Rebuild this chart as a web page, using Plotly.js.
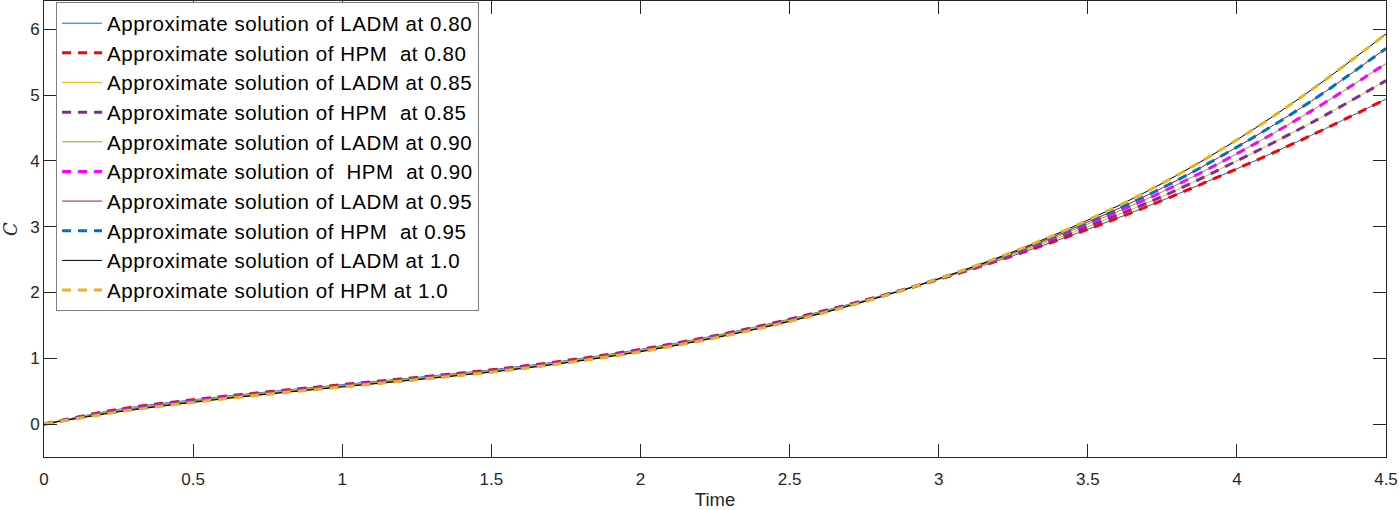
<!DOCTYPE html>
<html>
<head>
<meta charset="utf-8">
<script src="https://cdn.plot.ly/plotly-3.0.1.min.js"></script>
<style>
html,body{margin:0;padding:0;background:#fff;}
#chart{width:1399px;height:510px;}
.legendtext{letter-spacing:0.55px;}
</style>
</head>
<body>
<div id="chart"></div>
<script>
var time = [0, 0.25, 0.5, 0.75, 1.0, 1.25, 1.5, 1.75, 2.0, 2.25, 2.5, 2.75, 3.0, 3.25, 3.5, 3.75, 4.0, 4.25, 4.5];
var c080 = [0, 0.225, 0.37, 0.49, 0.60, 0.71, 0.825, 0.965, 1.135, 1.345, 1.595, 1.88, 2.20, 2.56, 2.96, 3.40, 3.88, 4.39, 4.94];
var c085 = [0, 0.215, 0.36, 0.48, 0.59, 0.70, 0.815, 0.955, 1.125, 1.335, 1.585, 1.875, 2.20, 2.575, 3.00, 3.46, 4.00, 4.58, 5.22];
var c090 = [0, 0.205, 0.35, 0.47, 0.58, 0.69, 0.805, 0.945, 1.115, 1.325, 1.575, 1.87, 2.205, 2.59, 3.04, 3.53, 4.11, 4.76, 5.48];
var c095 = [0, 0.195, 0.34, 0.46, 0.57, 0.68, 0.795, 0.935, 1.105, 1.315, 1.565, 1.865, 2.21, 2.605, 3.07, 3.59, 4.21, 4.91, 5.71];
var c100 = [0, 0.185, 0.33, 0.455, 0.565, 0.675, 0.79, 0.93, 1.10, 1.31, 1.56, 1.86, 2.21, 2.62, 3.10, 3.66, 4.32, 5.08, 5.93];

var seriesNames = [
  'Approximate solution of LADM at 0.80',
  'Approximate solution of HPM  at 0.80',
  'Approximate solution of LADM at 0.85',
  'Approximate solution of HPM  at 0.85',
  'Approximate solution of LADM at 0.90',
  'Approximate solution of  HPM  at 0.90',
  'Approximate solution of LADM at 0.95',
  'Approximate solution of HPM  at 0.95',
  'Approximate solution of LADM at 1.0',
  'Approximate solution of HPM at 1.0'
];
var seriesValues = [c080, c080, c085, c085, c090, c090, c095, c095, c100, c100];
var seriesColors = ['#0072BD', '#FF0000', '#EDB120', '#7E2F8E', '#77AC30', '#FF00FF', '#A2142F', '#0072BD', '#000000', '#EDB120'];

var traces = seriesNames.map(function (name, i) {
  var dashed = (i % 2 === 1);
  return {
    x: time,
    y: seriesValues[i],
    type: 'scatter',
    mode: 'lines',
    name: name.replace(/  /g, ' \u00a0'),
    line: {
      color: seriesColors[i],
      width: dashed ? 3 : 1,
      dash: dashed ? '9px,7px' : 'solid',
      shape: 'spline',
      smoothing: 1
    }
  };
});

var axisCommon = {
  showline: true,
  linecolor: '#262626',
  linewidth: 1,
  mirror: 'ticks',
  ticks: 'inside',
  ticklen: 13,
  tickwidth: 1,
  tickcolor: '#262626',
  showgrid: false,
  zeroline: false,
  tickfont: {family: 'Liberation Sans, Arial, sans-serif', size: 17, color: '#262626'}
};

var layout = {
  width: 1399,
  height: 510,
  margin: {l: 44, r: 13, t: 1, b: 53},
  paper_bgcolor: '#ffffff',
  plot_bgcolor: '#ffffff',
  showlegend: true,
  legend: {
    x: 0.009, y: 0.997, xanchor: 'left', yanchor: 'top',
    bgcolor: '#ffffff',
    bordercolor: '#7f7f7f',
    borderwidth: 1,
    itemwidth: 40,
    font: {family: 'Liberation Sans, Arial, sans-serif', size: 20.5, color: '#000000'}
  },
  xaxis: Object.assign({}, axisCommon, {
    range: [0, 4.5],
    tickvals: [0, 0.5, 1, 1.5, 2, 2.5, 3, 3.5, 4, 4.5],
    ticktext: ['0', '0.5', '1', '1.5', '2', '2.5', '3', '3.5', '4', '4.5'],
    ticklabelstandoff: 7,
    title: {text: 'Time', font: {family: 'Liberation Sans, Arial, sans-serif', size: 18.5, color: '#262626'}, standoff: 7}
  }),
  yaxis: Object.assign({}, axisCommon, {
    range: [-0.5, 6.43],
    tickvals: [0, 1, 2, 3, 4, 5, 6],
    ticktext: ['0', '1', '2', '3', '4', '5', '6'],
    title: {text: '<i>C</i>', font: {family: 'DejaVu Serif, serif', size: 18, color: '#262626'}, standoff: 9}
  })
};

Plotly.newPlot('chart', traces, layout, {displayModeBar: false, staticPlot: true});
</script>
</body>
</html>
